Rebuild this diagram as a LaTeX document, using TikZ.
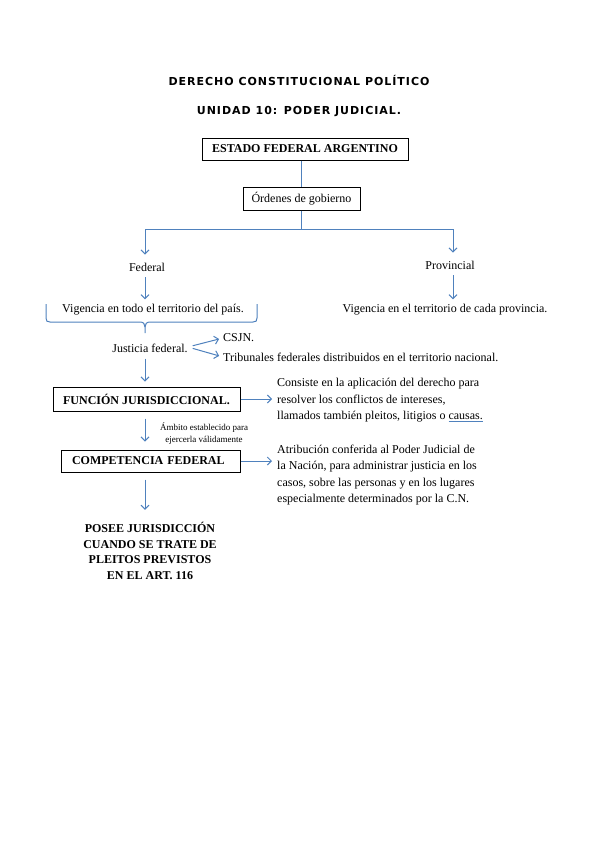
\documentclass[tikz,border=0pt]{standalone}
\usepackage{fontspec}
\setmainfont{Liberation Serif}
\newfontfamily\titlefont[LetterSpace=9]{DejaVu Sans}
\usetikzlibrary{arrows.meta}
\definecolor{ablue}{RGB}{79,129,189}
\begin{document}
\begin{tikzpicture}[x=1pt,y=-1pt,
  conn/.style={ablue, line width=1pt},
  arr/.style={conn, -{Straight Barb[length=4pt,width=8pt,line width=1pt]}},
  boxed/.style={draw=black, line width=1pt, inner ysep=2pt},
  txt/.style={font=\fontsize{12}{14}\selectfont, inner sep=0pt},
  bold/.style={font=\bfseries\fontsize{12}{14}\selectfont},
  titl/.style={font=\titlefont\bfseries\fontsize{11}{13}\selectfont, inner sep=0pt},
]
\useasboundingbox (0,0) rectangle (599,848);
\coordinate (spine) at (145,0);
\coordinate (bar) at (302,229);

\node[titl] (t1) at (299,80) {DERECHO CONSTITUCIONAL POLÍTICO};
\node[titl] (t2) at (299,112) {UNIDAD 10: PODER JUDICIAL.};

\node[boxed, bold, minimum width=206pt, minimum height=22pt] (estado) at (305,149) {ESTADO FEDERAL ARGENTINO};
\node[boxed, txt, minimum width=117pt, minimum height=23pt] (ordenes) at (301.5,198.5) {Órdenes de gobierno};

\node[txt] (federal) at (147,267) {Federal};
\node[txt] (provincial) at (450,265) {Provincial};
\node[txt] (vig1) at (153,310) {Vigencia en todo el territorio del país.};
\node[txt] (vig2) at (445,310) {Vigencia en el territorio de cada provincia.};

\node[txt] (jus) at (150,348) {Justicia federal.};
\node[txt, anchor=west] (csjn) at (223,338) {CSJN.};
\node[txt, anchor=west] (trib) at (223,357) {Tribunales federales distribuidos en el territorio nacional.};

\node[boxed, bold, minimum width=187pt, minimum height=24pt] (func) at (146.5,399) {FUNCIÓN JURISDICCIONAL.};
\node[txt, anchor=west, align=left, font=\fontsize{12}{16.5}\selectfont] (consiste) at (277,400.5)
 {Consiste en la aplicación del derecho para\\resolver los conflictos de intereses,\\llamados también pleitos, litigios o \textcolor{ablue}{\underline{\textcolor{black}{causas.}}}};

\node[txt, align=center, font=\fontsize{9}{12}\selectfont] (ambito) at (204,434) {Ámbito establecido para\\ejercerla válidamente};

\node[boxed, bold, text width=157pt, inner xsep=11pt, align=left, minimum height=22pt] (comp) at (150.5,461) {COMPETENCIA FEDERAL};
\node[txt, anchor=west, align=left, font=\fontsize{12}{16.5}\selectfont] (atrib) at (277,475)
 {Atribución conferida al Poder Judicial de\\la Nación, para administrar justicia en los\\casos, sobre las personas y en los lugares\\especialmente determinados por la C.N.};

\node[txt, align=center, font=\bfseries\fontsize{12}{15.8}\selectfont] (posee) at (150,551)
 {POSEE JURISDICCIÓN\\CUANDO SE TRATE DE\\PLEITOS PREVISTOS\\EN EL ART. 116};

% connectors
\draw[conn] (ordenes.north |- estado.south) -- (ordenes.north);
\draw[conn] (ordenes.south) -- (ordenes.south |- bar);
\draw[arr, shorten >=8pt] (ordenes.south |- bar) -| (federal.north -| spine);
\draw[arr, shorten >=8pt] (ordenes.south |- bar) -| ([xshift=3pt]provincial.north);
\draw[arr, shorten <=6pt, shorten >=5pt] (federal.south -| spine) -- (vig1.north -| spine);
\draw[arr, shorten <=6pt, shorten >=5pt] ([xshift=3pt]provincial.south) -- ([xshift=3pt]provincial.south |- vig2.north);

% brace
\draw[conn] (46,304) -- (46,318) .. controls (46,321) and (47,322) .. (50,322) -- (140,322)
  .. controls (143.5,322) and (145,324) .. (145,327) -- (145,333);
\draw[conn] (145,327) .. controls (145,324) and (146.5,322) .. (150,322) -- (253,322)
  .. controls (256,322) and (257,321) .. (257,318) -- (257,304);

\draw[arr, shorten <=5pt, shorten >=4pt] ([yshift=1pt]jus.east) -- (csjn.west);
\draw[arr, shorten <=5pt, shorten >=4pt] ([yshift=1pt]jus.east) -- (trib.west);

\draw[arr, shorten <=6pt, shorten >=5pt] (jus.south -| spine) -- (func.north -| spine);
\draw[arr, shorten >=5pt] (func.east) -- (func.east -| consiste.west);
\draw[arr, shorten <=7pt, shorten >=8pt] (func.south -| spine) -- (comp.north -| spine);
\draw[arr, shorten >=5pt] (comp.east) -- (comp.east -| atrib.west);
\draw[arr, shorten <=7pt, shorten >=12pt] (comp.south -| spine) -- (posee.north -| spine);
\end{tikzpicture}
\end{document}
